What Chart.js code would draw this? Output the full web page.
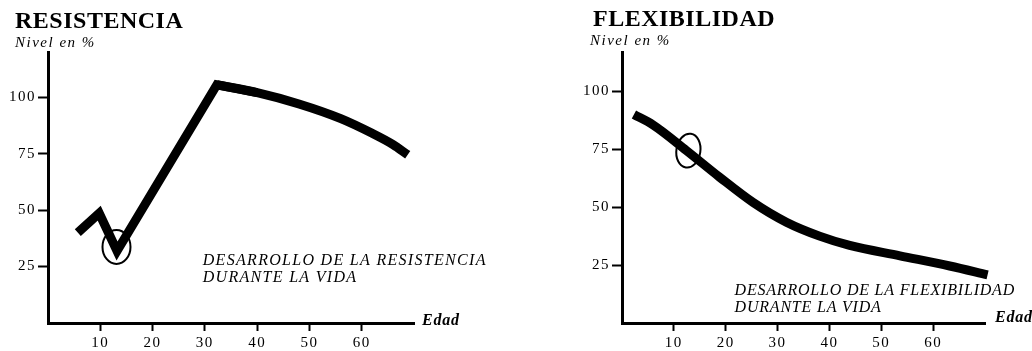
<!DOCTYPE html>
<html><head><meta charset="utf-8">
<script src="https://cdn.jsdelivr.net/npm/chart.js@4"></script>
<style>
html,body{margin:0;padding:0;background:#fff;width:1032px;height:351px;overflow:hidden}
canvas{position:absolute;top:0}
#c1{left:0}#c2{left:516px}
</style></head><body>
<canvas id="c1" width="516" height="351"></canvas>
<canvas id="c2" width="516" height="351"></canvas>
<script>
// ---- data ----
const xTicks = [10, 20, 30, 40, 50, 60];
const yTicks = [25, 50, 75, 100];
const resistAges   = [5.7, 9.8, 13.2, 32.3, 40, 48, 56, 62, 66, 68.8];
const resistLevels = [40, 48.6, 31.9, 105.5, 102, 97, 90.5, 84, 79, 74.5];
const flexAges   = [2.3, 6, 12.4, 18.8, 25.3, 31.7, 38.1, 43.9, 53.6, 63.2, 70.5];
const flexLevels = [90, 85.5, 74.5, 63, 52, 43.5, 37.5, 33.5, 29, 24.6, 20.8];
const titles = ['RESISTENCIA', 'FLEXIBILIDAD'];
const yTitle = 'Nivel en %';
const xTitle = 'Edad';
const notes = [['DESARROLLO DE LA RESISTENCIA', 'DURANTE LA VIDA'],
               ['DESARROLLO DE LA FLEXIBILIDAD', 'DURANTE LA VIDA']];

const SERIF = "'Liberation Serif', 'Times New Roman', serif";
Chart.defaults.font.family = SERIF;
Chart.defaults.color = '#000';

const pts = (xs, ys) => xs.map((x, i) => ({x, y: ys[i]}));

const decor = {
  id: 'decor',
  beforeDraw(chart) { chart.ctx.letterSpacing = '1.5px'; },
  afterDraw(chart, args, o) {
    const ctx = chart.ctx, ca = chart.chartArea, xs = chart.scales.x, ys = chart.scales.y;
    ctx.save();
    ctx.fillStyle = '#000'; ctx.strokeStyle = '#000';
    ctx.textAlign = 'left'; ctx.textBaseline = 'alphabetic';
    ctx.letterSpacing = '0.5px';
    ctx.font = 'bold 24px ' + SERIF;
    ctx.fillText(o.title, ca.left + o.titleDx, o.titleY);
    ctx.letterSpacing = '1.5px';
    ctx.font = 'italic 15px ' + SERIF;
    ctx.fillText(yTitle, ca.left + o.nivelDx, o.nivelY);
    ctx.letterSpacing = '0.8px';
    ctx.font = 'italic bold 16px ' + SERIF;
    ctx.fillText(xTitle, ca.right + o.edadDx, o.edadY);
    ctx.letterSpacing = o.noteSpacing;
    ctx.font = 'italic 16px ' + SERIF;
    const nx = xs.getPixelForValue(o.note.x), ny = ys.getPixelForValue(o.note.y);
    o.lines.forEach((t, i) => ctx.fillText(t, nx, ny + i * 17));
    const e = o.ellipse;
    ctx.lineWidth = 2;
    ctx.beginPath();
    ctx.ellipse(xs.getPixelForValue(e.x), ys.getPixelForValue(e.y), e.rx, e.ry, e.rot, 0, Math.PI * 2);
    ctx.stroke();
    ctx.restore();
  }
};

function makeChart(id, datasets, c) {
  return new Chart(document.getElementById(id), {
    type: 'line',
    data: {datasets},
    plugins: [decor],
    options: {
      responsive: false, animation: false, events: [],
      layout: {padding: {left: c.padLeft, right: c.padRight, top: 52, bottom: 0}},
      plugins: {legend: {display: false}, tooltip: {enabled: false}, decor: c},
      elements: {point: {radius: 0}},
      scales: {
        x: {
          type: 'linear', min: 0, max: 70,
          afterBuildTicks: s => { s.ticks = xTicks.map(v => ({value: v})); },
          afterFit: s => { s.height = 28; },
          grid: {drawOnChartArea: false, drawTicks: true, tickLength: 8, tickWidth: 2, tickColor: '#000', color: '#000'},
          border: {display: true, color: '#000', width: 3},
          ticks: {color: '#000', font: {size: 15, family: SERIF}, padding: 3, maxRotation: 0, autoSkip: false}
        },
        y: {
          type: 'linear', min: 0, max: c.yMax,
          afterBuildTicks: s => { s.ticks = yTicks.map(v => ({value: v})); },
          afterFit: s => { s.width = 48; },
          grid: {drawOnChartArea: false, drawTicks: true, tickLength: 10, tickWidth: 2, tickColor: '#000', color: '#000'},
          border: {display: true, color: '#000', width: 3},
          ticks: {color: '#000', font: {size: 15, family: SERIF}, padding: 2, autoSkip: false}
        }
      }
    }
  });
}

const lineStyle = {borderColor: '#000', borderWidth: 9, borderJoinStyle: 'miter', borderCapStyle: 'butt', fill: false, clip: false, pointRadius: 0};
const resistPts = pts(resistAges, resistLevels);

makeChart('c1', [
  Object.assign({data: resistPts.slice(0, 5), tension: 0}, lineStyle),
  Object.assign({data: resistPts.slice(3), cubicInterpolationMode: 'monotone'}, lineStyle)
], {
  padLeft: 0, padRight: 102, yMax: 120,
  title: titles[0], titleDx: -33, titleY: 28, nivelDx: -33, nivelY: 47,
  edadDx: 8, edadY: 325, lines: notes[0], note: {x: 29.6, y: 25.7}, noteSpacing: '1.3px',
  ellipse: {x: 13.1, y: 33.7, rx: 14, ry: 17, rot: 0}
});

makeChart('c2', [
  Object.assign({data: pts(flexAges, flexLevels), cubicInterpolationMode: 'monotone'}, lineStyle)
], {
  padLeft: 58, padRight: 47, yMax: 117,
  title: titles[1], titleDx: -29, titleY: 26, nivelDx: -32, nivelY: 45,
  edadDx: 10, edadY: 322, lines: notes[1], note: {x: 21.7, y: 12}, noteSpacing: '0.8px',
  ellipse: {x: 12.8, y: 74.4, rx: 12, ry: 17, rot: 0.15}
});
</script>
</body></html>
